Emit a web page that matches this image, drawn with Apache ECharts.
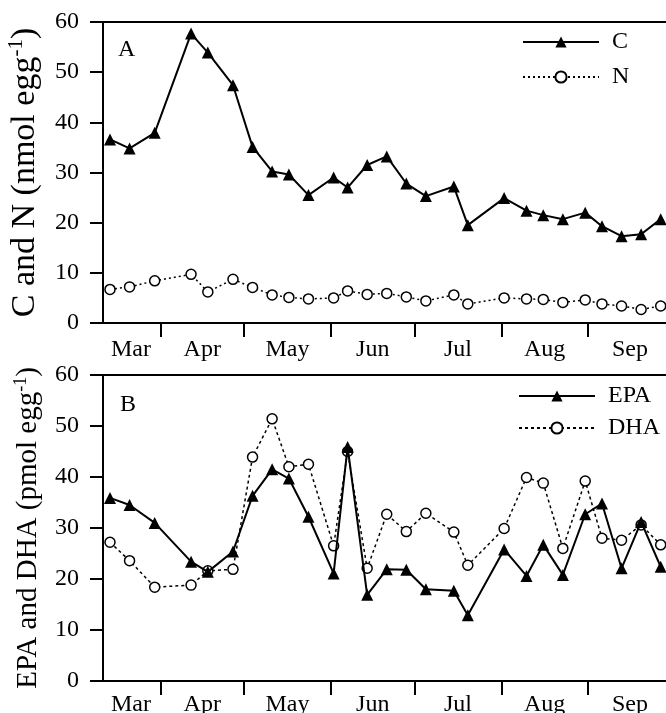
<!DOCTYPE html>
<html><head><meta charset="utf-8">
<script src="https://cdn.jsdelivr.net/npm/echarts@6/dist/echarts.min.js"></script>
<style>html,body{margin:0;padding:0;background:#fff}#c{width:666px;height:713px}</style>
</head><body><div id="c"></div>
<script>
// day of year of each sampling date
var sampleDay = [73,80,89,102,108,117,124,131,137,144,153,158,165,172,179,186,196,201,214,222,228,235,243,249,256,263,270];
var seriesC   = [36.6,34.8,37.9,57.7,53.9,47.4,35.1,30.2,29.6,25.5,29.0,27.0,31.5,33.2,27.8,25.3,27.2,19.5,24.9,22.4,21.5,20.7,22.0,19.3,17.3,17.7,20.7];
var seriesN   = [6.7,7.2,8.4,9.7,6.2,8.7,7.1,5.6,5.1,4.8,5.0,6.4,5.7,5.9,5.2,4.4,5.6,3.8,5.0,4.8,4.7,4.1,4.6,3.8,3.4,2.7,3.4];
var seriesEPA = [35.9,34.5,31.0,23.4,21.4,25.4,36.3,41.5,39.7,32.2,21.1,45.9,16.9,21.9,21.8,18.0,17.7,12.9,25.8,20.6,26.7,20.8,32.7,34.8,22.1,31.2,22.4];
var seriesDHA = [27.2,23.6,18.4,18.8,21.6,21.9,43.9,51.4,42.0,42.5,26.5,45.0,22.1,32.7,29.3,32.9,29.2,22.7,29.9,39.9,38.8,26.0,39.2,28.0,27.6,30.6,26.7];
var monthStarts = [91,121,152,182,213,244];
var monthLabelPos = [80.5,106,136.5,167,197.5,228.5,259];
var monthNames = ['Mar','Apr','May','Jun','Jul','Aug','Sep'];
var yTicks = [0,10,20,30,40,50,60];

var FONT = 'Liberation Serif';
var dayMin = 70.5, dayMax = 271.9;

function pairs(vals){ return sampleDay.map(function(d,i){ return [d, vals[i]]; }); }
function monthName(v){
  var best = 0, bd = 1e9;
  monthLabelPos.forEach(function(p,i){ var dd=Math.abs(p-v); if(dd<bd){bd=dd;best=i;} });
  return monthNames[best];
}
function xBottom(gi, margin){
  return {
    type:'value', gridIndex:gi, min:dayMin, max:dayMax, position:'bottom',
    splitLine:{show:false},
    axisLine:{show:true, onZero:false, lineStyle:{color:'#000', width:2}},
    axisTick:{show:true, inside:false, length:14, customValues:monthStarts, lineStyle:{color:'#000', width:2}},
    axisLabel:{show:true, customValues:monthLabelPos, formatter:monthName, margin:margin,
      fontFamily:FONT, fontSize:24, color:'#000'}
  };
}
function xTop(gi){
  return {
    type:'value', gridIndex:gi, min:dayMin, max:dayMax, position:'top',
    splitLine:{show:false},
    axisLine:{show:true, onZero:false, lineStyle:{color:'#000', width:2}},
    axisTick:{show:false}, axisLabel:{show:false}
  };
}
function yAx(gi, name, fs, gap){
  return {
    type:'value', gridIndex:gi, min:yTicks[0], max:yTicks[yTicks.length-1], interval:10,
    splitLine:{show:false},
    axisLine:{show:true, lineStyle:{color:'#000', width:2}},
    axisTick:{show:true, inside:false, length:13, lineStyle:{color:'#000', width:2}},
    axisLabel:{margin:24, fontFamily:FONT, fontSize:24, color:'#000'},
    name:name, nameLocation:'middle', nameGap:gap,
    nameTextStyle:{fontFamily:FONT, fontSize:fs, color:'#000',
      rich:{
        a:{fontFamily:FONT, fontSize:fs, color:'#000', lineHeight:Math.round(fs*1.13)},
        s:{fontFamily:FONT, fontSize:Math.round(fs*0.62), color:'#000', verticalAlign:'top', lineHeight:Math.round(fs*0.62)}
      }}
  };
}
function solidSeries(name, vals, xi, yi){
  return {name:name, type:'line', xAxisIndex:xi, yAxisIndex:yi, data:pairs(vals),
    symbol:'triangle', symbolSize:12, z:3,
    lineStyle:{color:'#000', width:2, type:'solid'},
    itemStyle:{color:'#000', borderColor:'#000', borderWidth:0}};
}
function dotSeries(name, vals, xi, yi, dash){
  return {name:name, type:'line', xAxisIndex:xi, yAxisIndex:yi, data:pairs(vals),
    symbol:'circle', symbolSize:10, z:2,
    lineStyle:{color:'#000', width:1.5, type:dash},
    itemStyle:{color:'#fff', borderColor:'#000', borderWidth:1.5}};
}
function legend(names, left, top, gap){
  return {data:names, orient:'vertical', left:left, top:top, itemWidth:76, itemHeight:14, itemGap:gap,
    padding:0, textStyle:{fontFamily:FONT, fontSize:24, color:'#000', padding:[0,0,0,8]}};
}

var chart = echarts.init(document.getElementById('c'), null, {renderer:'canvas'});
chart.setOption({
  backgroundColor:'#fff',
  animation:false,
  title:[
    {text:'A', left:118, top:38, padding:0, textStyle:{fontFamily:FONT, fontSize:24, fontWeight:'normal', color:'#000'}},
    {text:'B', left:120, top:393, padding:0, textStyle:{fontFamily:FONT, fontSize:24, fontWeight:'normal', color:'#000'}}
  ],
  legend:[ legend(['C','N'], 522, 30, 11), legend(['EPA','DHA'], 518, 384, 8) ],
  grid:[
    {left:103, top:22, right:0, height:301, outerBoundsMode:'none', containLabel:false},
    {left:103, top:375, right:0, height:306, outerBoundsMode:'none', containLabel:false}
  ],
  xAxis:[ xBottom(0, 15), xTop(0), xBottom(1, 12), xTop(1) ],
  yAxis:[ yAx(0,'{a|C and N (nmol egg}{s|-1}{a|)}', 34, 59), yAx(1,'{a|EPA and DHA (pmol egg}{s|-1}{a|)}', 29, 58) ],
  series:[
    dotSeries('N', seriesN, 0, 0, [2,3]),
    solidSeries('C', seriesC, 0, 0),
    dotSeries('DHA', seriesDHA, 2, 1, [3,3]),
    solidSeries('EPA', seriesEPA, 2, 1)
  ]
});
</script></body></html>
